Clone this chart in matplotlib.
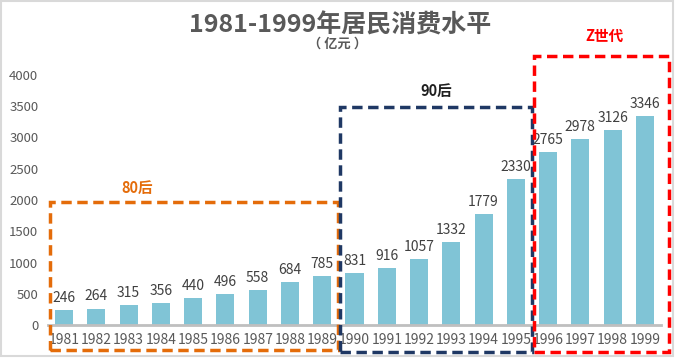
import matplotlib.pyplot as plt
from matplotlib.patches import Rectangle

plt.rcParams['font.family'] = ['Noto Sans CJK SC', 'DejaVu Sans']

years = [str(y) for y in range(1981, 2000)]
values = [246, 264, 315, 356, 440, 496, 558, 684, 785,
          831, 916, 1057, 1332, 1779, 2330,
          2765, 2978, 3126, 3346]

# group name, first index, last index, colour
groups = [('80后', 0, 8, '#E46C0A'),
          ('90后', 9, 14, '#1F3864'),
          ('Z世代', 15, 18, '#FF0000')]

fig = plt.figure(figsize=(6.76, 3.6), dpi=100)
ax = fig.add_axes([48 / 676, 35 / 360, 613 / 676, 250 / 360])

x = list(range(len(years)))
bars = ax.bar(x, values, width=0.56, color='#80C4D6', zorder=2)
for xi, v in zip(x, values):
    ax.text(xi, v + 80, str(v), ha='center', va='bottom', fontsize=10,
            color='#404040')

ax.set_xlim(-0.5, len(years) - 0.5)
ax.set_ylim(0, 4000)
ax.set_yticks(range(0, 4001, 500))
ax.set_xticks(x)
ax.set_xticklabels(years, fontsize=10, color='#595959')
for lab in ax.get_yticklabels():
    lab.set_fontsize(9.5)
    lab.set_color('#595959')
ax.tick_params(axis='both', length=0)
ax.tick_params(axis='x', pad=6)
ax.tick_params(axis='y', pad=7)
for s in ['top', 'right', 'left']:
    ax.spines[s].set_visible(False)
ax.spines['bottom'].set_color('#BFBFBF')
ax.spines['bottom'].set_linewidth(2)

# dashed boxes around generations
box_tops = [1968, 3488, 4304]
label_y = [2200, 3750, 4620]
label_shift = [-1.75, 0, 0.1]
for (name, i0, i1, col), top, ly, dx in zip(groups, box_tops, label_y, label_shift):
    left = i0 - 0.45
    right = i1 + 0.49 if i1 < len(years) - 1 else i1 + 0.74
    bottom = -400 if i0 == 0 else -430
    r = Rectangle((left, bottom), right - left, top - bottom, fill=False,
                  edgecolor=col, linewidth=2.5, linestyle=(0, (3, 1.6)),
                  clip_on=False, zorder=3)
    ax.add_patch(r)
    tcol = '#1F1F1F' if name == '90后' else col
    ax.text((left + right) / 2 + dx, ly, name,
            ha='center', va='center', fontsize=10.5, fontweight='bold', color=tcol)

fig.text(0.503, 0.93, '1981-1999年居民消费水平', ha='center', va='center',
         fontsize=18, fontweight='bold', color='#595959')
fig.text(0.5, 0.878, '（ 亿元 ）', ha='center', va='center',
         fontsize=9.5, fontweight='bold', color='#595959')

fig.patches.append(Rectangle((0.001, 0.012), 0.995, 0.985, transform=fig.transFigure,
                             fill=False, edgecolor='#D9D9D9', linewidth=1.5))

fig.savefig('out.png', dpi=100)
